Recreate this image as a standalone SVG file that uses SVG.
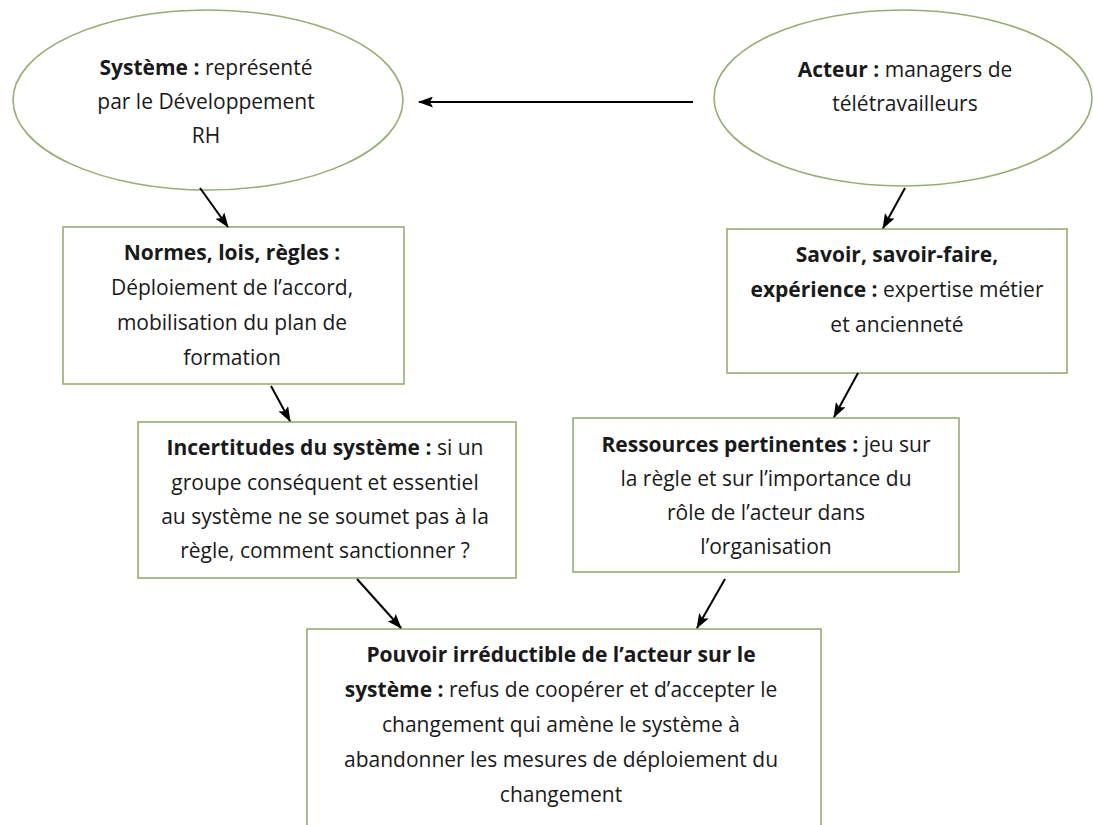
<svg xmlns="http://www.w3.org/2000/svg" width="1093" height="825" viewBox="0 0 1093 825">
<defs>
<marker id="ah" markerWidth="15" markerHeight="11" refX="14" refY="5.5" orient="auto" markerUnits="userSpaceOnUse">
<path d="M0,0 L15,5.5 L0,11 L3,5.5 Z" fill="#000"/>
</marker>
<style>
.n{fill:#fff;stroke:#96ad72;stroke-width:1.6}
.t{font-family:"Open Sans","Liberation Sans",sans-serif;font-size:21px;fill:#1a1a1a;text-anchor:middle}
.b{font-weight:bold}
.c{stroke:#000;stroke-width:2;fill:none;marker-end:url(#ah)}
</style>
</defs>
<rect width="1093" height="825" fill="#fff"/>
<g id="systeme">
<ellipse class="n" cx="208" cy="100" rx="195" ry="90"/>
<text class="t" x="206" y="75"><tspan class="b">Système :</tspan> représenté</text>
<text class="t" x="206" y="109">par le Développement</text>
<text class="t" x="206" y="143">RH</text>
</g>
<g id="acteur">
<ellipse class="n" cx="903" cy="98" rx="189" ry="88"/>
<text class="t" x="905" y="77"><tspan class="b">Acteur :</tspan> managers de</text>
<text class="t" x="905" y="111">télétravailleurs</text>
</g>
<g id="normes">
<rect class="n" x="63" y="227" width="341" height="157"/>
<text class="t" x="232" y="260"><tspan class="b">Normes, lois, règles :</tspan></text>
<text class="t" x="232" y="295">Déploiement de l’accord,</text>
<text class="t" x="232" y="330">mobilisation du plan de</text>
<text class="t" x="232" y="365">formation</text>
</g>
<g id="savoir">
<rect class="n" x="727" y="229" width="340" height="144"/>
<text class="t" x="897" y="262"><tspan class="b">Savoir, savoir-faire,</tspan></text>
<text class="t" x="897" y="297"><tspan class="b">expérience :</tspan> expertise métier</text>
<text class="t" x="897" y="332">et ancienneté</text>
</g>
<g id="incertitudes">
<rect class="n" x="138" y="422" width="378" height="156"/>
<text class="t" x="325" y="455"><tspan class="b">Incertitudes du système :</tspan> si un</text>
<text class="t" x="325" y="490">groupe conséquent et essentiel</text>
<text class="t" x="325" y="524">au système ne se soumet pas à la</text>
<text class="t" x="325" y="558">règle, comment sanctionner ?</text>
</g>
<g id="ressources">
<rect class="n" x="573" y="418" width="386" height="154"/>
<text class="t" x="766" y="452"><tspan class="b">Ressources pertinentes :</tspan> jeu sur</text>
<text class="t" x="766" y="486">la règle et sur l’importance du</text>
<text class="t" x="766" y="520">rôle de l’acteur dans</text>
<text class="t" x="766" y="554">l’organisation</text>
</g>
<g id="pouvoir">
<rect class="n" x="307" y="629" width="514" height="210"/>
<text class="t" x="561" y="662"><tspan class="b">Pouvoir irréductible de l’acteur sur le</tspan></text>
<text class="t" x="561" y="697"><tspan class="b">système :</tspan> refus de coopérer et d’accepter le</text>
<text class="t" x="561" y="732">changement qui amène le système à</text>
<text class="t" x="561" y="767">abandonner les mesures de déploiement du</text>
<text class="t" x="561" y="802">changement</text>
</g>
<g id="connectors">
<line class="c" x1="693" y1="102" x2="419" y2="102"/>
<line class="c" x1="200" y1="188" x2="228" y2="227"/>
<line class="c" x1="271" y1="386" x2="290" y2="421"/>
<line class="c" x1="905" y1="188" x2="883" y2="228"/>
<line class="c" x1="858" y1="373" x2="834" y2="417"/>
<line class="c" x1="357" y1="579" x2="401" y2="628"/>
<line class="c" x1="725" y1="579" x2="697" y2="628"/>
</g>
</svg>
